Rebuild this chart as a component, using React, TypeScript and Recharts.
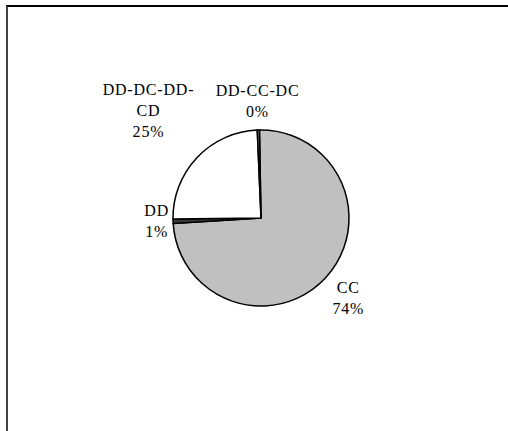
import React from 'react';
import { PieChart, Pie, Cell } from 'recharts';

const categories = ['CC', 'DD', 'DD-DC-DD-CD', 'DD-CC-DC'];
const shares = [74.3, 0.8, 24.5, 0.4];
const sliceColors = ['#c0c0c0', '#3a3a3a', '#ffffff', '#7a7a7a'];

const data = categories.map((name, i) => ({ name, value: shares[i] }));
const total = shares.reduce((a, b) => a + b, 0);

const FONT = '"Liberation Serif", "Times New Roman", serif';
const FONT_SIZE = 16;
const LINE_H = 21;
const CHAR_W = 9.6;
const RADIAN = Math.PI / 180;

// break long names after a hyphen, Excel style
const wrap = (text: string, maxChars = 9) => {
  const lines: string[] = [];
  let rest = text;
  while (rest.length > maxChars) {
    const cut = rest.lastIndexOf('-', maxChars - 1);
    if (cut <= 0) break;
    lines.push(rest.slice(0, cut + 1));
    rest = rest.slice(cut + 1);
  }
  lines.push(rest);
  return lines;
};

const renderLabel = (props: any) => {
  const { cx, cy, midAngle, outerRadius, name, value } = props;
  const pct = `${Math.round((value / total) * 100)}%`;
  const lines = [...wrap(name), pct];
  const hw = (Math.max(...lines.map(l => l.length)) * CHAR_W) / 2;
  const hh = (lines.length * LINE_H) / 2;
  const dx = Math.cos(-midAngle * RADIAN);
  const dy = Math.sin(-midAngle * RADIAN);
  // taller blocks get pushed out a little more
  const extra = (lines.length - 2) * 8;
  const dist = outerRadius + 6 + extra + Math.abs(dx) * hw + Math.abs(dy) * hh;
  const bx = cx + dx * dist;
  const by = cy + dy * dist;
  const top = by - hh;
  return (
    <text
      x={bx}
      y={top}
      textAnchor="middle"
      fontFamily={FONT}
      fontSize={FONT_SIZE}
      letterSpacing={0.8}
      fill="#000"
    >
      {lines.map((l, i) => (
        <tspan key={i} x={bx} y={top + i * LINE_H + 15}>
          {l}
        </tspan>
      ))}
    </text>
  );
};

export default function App() {
  return (
    <div style={{ position: 'absolute', left: 0, top: 0, width: 508, height: 431, overflow: 'hidden', background: '#fff' }}>
      <div
        style={{
          position: 'absolute',
          left: 6,
          top: 5,
          width: 540,
          height: 460,
          borderLeft: '2px solid #404040',
          borderTop: '2px solid #000',
        }}
      />
      <div style={{ position: 'absolute', left: 0, top: 0 }}>
        <PieChart width={508} height={431} margin={{ top: 0, right: 0, bottom: 0, left: 0 }}>
          <Pie
            data={data}
            dataKey="value"
            nameKey="name"
            cx={261}
            cy={218}
            outerRadius={88}
            startAngle={91}
            endAngle={-269}
            stroke="#000"
            strokeWidth={1.5}
            label={renderLabel}
            labelLine={false}
            isAnimationActive={false}
          >
            {data.map((d, i) => (
              <Cell key={d.name} fill={sliceColors[i]} />
            ))}
          </Pie>
        </PieChart>
      </div>
    </div>
  );
}
